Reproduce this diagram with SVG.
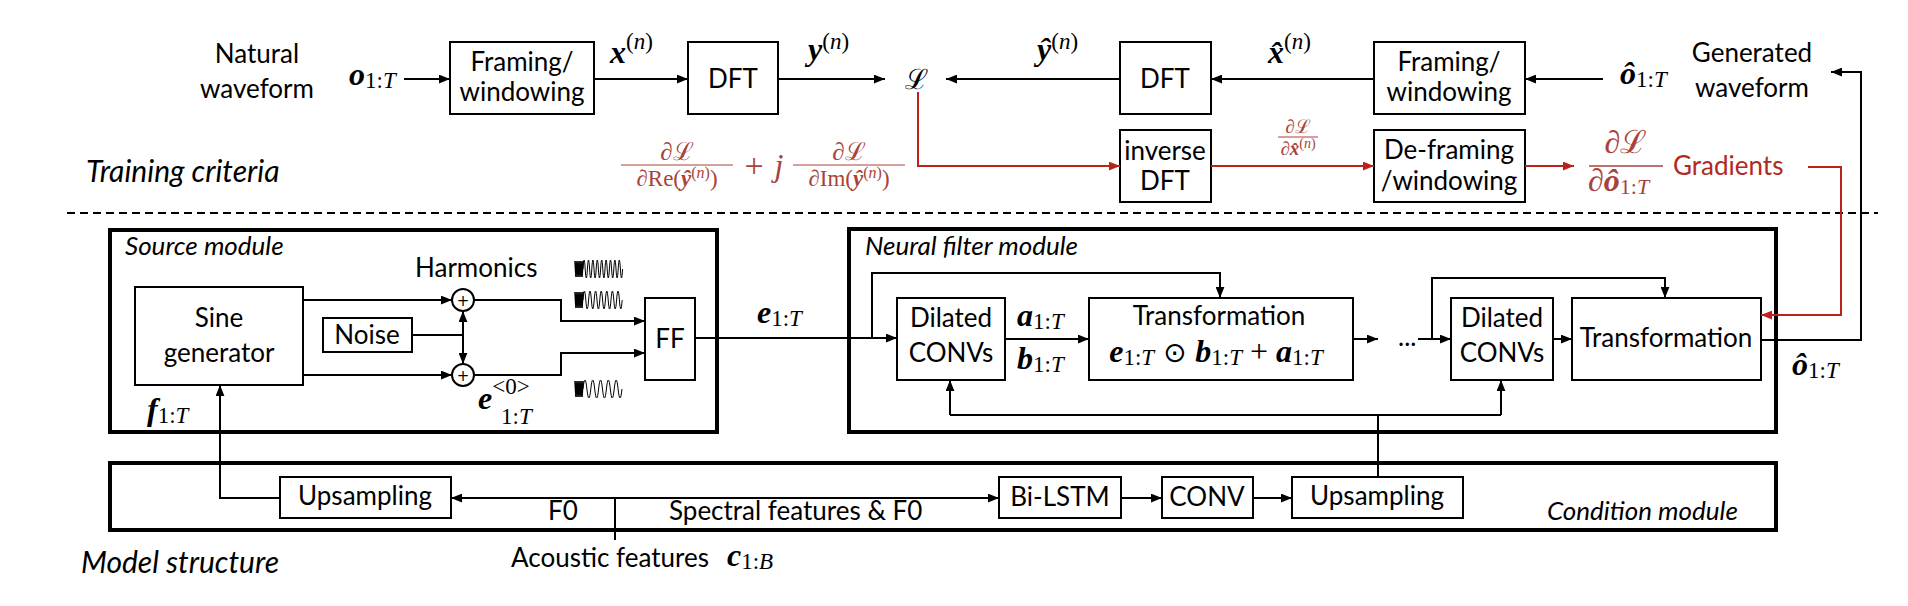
<svg xmlns="http://www.w3.org/2000/svg" width="1908" height="606" viewBox="0 0 1908 606">
<defs>
<style>
.t{font-family:Lato,"Liberation Sans",sans-serif;font-size:26px;fill:#000}
.ti{font-family:Lato,"Liberation Sans",sans-serif;font-style:italic;font-size:26px;fill:#000}
.red{fill:#b02a22}
.m{font-family:"Liberation Serif","DejaVu Serif",serif;font-size:32px;fill:#000}
.mr{font-family:"Liberation Serif","DejaVu Serif",serif;font-size:22px;fill:#a8433b}
.cal{font-family:"DejaVu Serif",serif;font-style:normal}
.bi{font-weight:bold;font-style:italic}
.it{font-style:italic}
.sub{font-size:23px;font-weight:normal;font-style:normal}
.box{fill:#fff;stroke:#000;stroke-width:2}
.mod{fill:none;stroke:#000;stroke-width:4}
.ln{fill:none;stroke:#000;stroke-width:2}
.rl{fill:none;stroke:#b8231c;stroke-width:2}
.wv{fill:none;stroke:#000;stroke-width:1}
</style>
<marker id="a" viewBox="0 0 10 8" refX="10" refY="4" markerWidth="11" markerHeight="9" markerUnits="userSpaceOnUse" orient="auto-start-reverse"><path d="M0,0 L10,4 L0,8 z" fill="#000"/></marker>
<marker id="ar" viewBox="0 0 10 8" refX="10" refY="4" markerWidth="11" markerHeight="9" markerUnits="userSpaceOnUse" orient="auto"><path d="M0,0 L10,4 L0,8 z" fill="#b8231c"/></marker>
</defs>
<rect width="1908" height="606" fill="#fff"/>

<!-- section labels -->
<text class="ti" x="86" y="182" style="font-size:30px">Training criteria</text>
<text class="ti" x="81" y="573" style="font-size:30px">Model structure</text>
<line x1="67" y1="213" x2="1878" y2="213" stroke="#000" stroke-width="2" stroke-dasharray="8 5"/>

<!-- top row -->
<g id="natural">
<text class="t" x="257" y="63" text-anchor="middle">Natural</text>
<text class="t" x="257" y="98" text-anchor="middle">waveform</text>
<text class="m" x="349" y="85"><tspan class="bi">o</tspan><tspan class="sub" dy="3">1:<tspan class="it">T</tspan></tspan></text>
</g>
<g id="framing1">
<rect class="box" x="450" y="42" width="144" height="72"/>
<text class="t" x="522" y="71" text-anchor="middle">Framing/</text>
<text class="t" x="522" y="101" text-anchor="middle">windowing</text>
</g>
<g id="dft1">
<rect class="box" x="688" y="42" width="90" height="72"/>
<text class="t" x="733" y="88" text-anchor="middle">DFT</text>
</g>
<g id="loss">
<text class="cal" x="916" y="89" text-anchor="middle" style="font-size:28px">ℒ</text>
</g>
<g id="dft2">
<rect class="box" x="1120" y="42" width="91" height="72"/>
<text class="t" x="1165" y="88" text-anchor="middle">DFT</text>
</g>
<g id="framing2">
<rect class="box" x="1374" y="42" width="151" height="72"/>
<text class="t" x="1449" y="71" text-anchor="middle">Framing/</text>
<text class="t" x="1449" y="101" text-anchor="middle">windowing</text>
</g>
<g id="generated">
<text class="m" x="1620" y="84"><tspan class="bi">ô</tspan><tspan class="sub" dy="3">1:<tspan class="it">T</tspan></tspan></text>
<text class="t" x="1752" y="62" text-anchor="middle">Generated</text>
<text class="t" x="1752" y="97" text-anchor="middle">waveform</text>
</g>
<g id="idft">
<rect class="box" x="1120" y="130" width="91" height="72"/>
<text class="t" x="1165" y="160" text-anchor="middle">inverse</text>
<text class="t" x="1165" y="190" text-anchor="middle">DFT</text>
</g>
<g id="deframing">
<rect class="box" x="1374" y="130" width="151" height="72"/>
<text class="t" x="1449" y="159" text-anchor="middle">De-framing</text>
<text class="t" x="1449" y="190" text-anchor="middle">/windowing</text>
</g>
<g id="gradients">
<text class="mr" x="1626" y="153" text-anchor="middle" style="font-size:32px">∂<tspan class="cal">ℒ</tspan></text>
<line x1="1589" y1="166" x2="1663" y2="166" stroke="#a8433b" stroke-width="1.5"/>
<text class="mr" x="1588" y="191" style="font-size:32px">∂<tspan class="bi">ô</tspan><tspan style="font-size:22px" dy="3">1:<tspan class="it">T</tspan></tspan></text>
<text class="t red" x="1673" y="175">Gradients</text>
</g>
<g id="labels-top">
<text class="m" x="610" y="63"><tspan class="bi">x</tspan><tspan class="sub" dy="-14">(<tspan class="it">n</tspan>)</tspan></text>
<text class="m" x="808" y="60"><tspan class="bi">y</tspan><tspan class="sub" dy="-11">(<tspan class="it">n</tspan>)</tspan></text>
<text class="m" x="1037" y="60"><tspan class="bi">ŷ</tspan><tspan class="sub" dy="-11">(<tspan class="it">n</tspan>)</tspan></text>
<text class="m" x="1268" y="63"><tspan class="bi">x̂</tspan><tspan class="sub" dy="-14">(<tspan class="it">n</tspan>)</tspan></text>
<text class="mr" x="1298" y="133" text-anchor="middle" style="font-size:19px">∂<tspan class="cal">ℒ</tspan></text>
<line x1="1278" y1="137" x2="1318" y2="137" stroke="#a8433b" stroke-width="1"/>
<text class="mr" x="1298" y="155" text-anchor="middle" style="font-size:19px">∂<tspan class="bi">x̂</tspan><tspan style="font-size:14px" dy="-7">(<tspan class="it">n</tspan>)</tspan></text>
<text class="mr" x="677" y="160" text-anchor="middle" style="font-size:25px">∂<tspan class="cal">ℒ</tspan></text>
<line x1="621" y1="165" x2="733" y2="165" stroke="#a8433b" stroke-width="1.2"/>
<text class="mr" x="677" y="186" text-anchor="middle" style="font-size:23px">∂Re(<tspan class="bi">ŷ</tspan><tspan style="font-size:16px" dy="-8">(<tspan class="it">n</tspan>)</tspan><tspan dy="8">)</tspan></text>
<text class="mr" x="754" y="177" text-anchor="middle" style="font-size:34px">+</text>
<text class="mr" x="779" y="176" text-anchor="middle" style="font-size:32px;font-style:italic">j</text>
<text class="mr" x="849" y="160" text-anchor="middle" style="font-size:25px">∂<tspan class="cal">ℒ</tspan></text>
<line x1="793" y1="165" x2="905" y2="165" stroke="#a8433b" stroke-width="1.2"/>
<text class="mr" x="849" y="186" text-anchor="middle" style="font-size:23px">∂Im(<tspan class="bi">ŷ</tspan><tspan style="font-size:16px" dy="-8">(<tspan class="it">n</tspan>)</tspan><tspan dy="8">)</tspan></text>
</g>

<!-- source module -->
<g id="source-module">
<rect class="mod" x="110" y="230" width="607" height="202"/>
<text class="ti" x="125" y="255">Source module</text>
<text class="t" x="415" y="277">Harmonics</text>
</g>
<g id="sine">
<rect class="box" x="135" y="287" width="168" height="98"/>
<text class="t" x="219" y="327" text-anchor="middle">Sine</text>
<text class="t" x="219" y="362" text-anchor="middle">generator</text>
</g>
<g id="noise">
<rect class="box" x="323" y="318" width="89" height="34"/>
<text class="t" x="367" y="344" text-anchor="middle">Noise</text>
</g>
<g id="add1">
<circle cx="463" cy="300" r="11" fill="#fff" stroke="#000" stroke-width="2"/>
<text x="463" y="306" text-anchor="middle" style="font-family:'DejaVu Sans',sans-serif;font-size:15px">+</text>
</g>
<g id="add2">
<circle cx="463" cy="375" r="11" fill="#fff" stroke="#000" stroke-width="2"/>
<text x="463" y="381" text-anchor="middle" style="font-family:'DejaVu Sans',sans-serif;font-size:15px">+</text>
</g>
<g id="ff">
<rect class="box" x="645" y="298" width="50" height="82"/>
<text class="t" x="670" y="348" text-anchor="middle">FF</text>
</g>
<g id="waves">
<path class="wv" style="stroke-width:1.6" d="M575,261 L576,277 L577,261 L578,277 L579,261 L580,277 L581,261 L582,277 L583,261"/>
<path class="wv" d="M583,269 q1.1,-18 2.2,0 t2.2,0 t2.2,0 t2.2,0 t2.2,0 t2.2,0 t2.2,0 t2.2,0 t2.2,0 t2.2,0 t2.2,0 t2.2,0 t2.2,0 t2.2,0 t2.2,0 t2.2,0 t2.2,0 t2.2,0"/>
<path class="wv" style="stroke-width:1.6" d="M575,292 L576,308 L577,292 L578,308 L579,292 L580,308 L581,292 L582,308 L583,292"/>
<path class="wv" d="M583,300 q1.4,-18 2.8,0 t2.8,0 t2.8,0 t2.8,0 t2.8,0 t2.8,0 t2.8,0 t2.8,0 t2.8,0 t2.8,0 t2.8,0 t2.8,0 t2.8,0 t2.8,0"/>
<path class="wv" style="stroke-width:1.6" d="M575,381 L576,397 L577,381 L578,397 L579,381 L580,397 L581,381 L582,397 L583,381"/>
<path class="wv" d="M583,389 q1.95,-18 3.9,0 t3.9,0 t3.9,0 t3.9,0 t3.9,0 t3.9,0 t3.9,0 t3.9,0 t3.9,0 t3.9,0"/>
</g>
<g id="source-labels">
<text class="m" x="147" y="420"><tspan class="bi">f</tspan><tspan class="sub" dy="3">1:<tspan class="it">T</tspan></tspan></text>
<text class="m" x="478" y="409"><tspan class="bi">e</tspan><tspan class="sub" dy="-15">&lt;0&gt;</tspan></text>
<text class="m" x="501" y="424"><tspan class="sub">1:<tspan class="it">T</tspan></tspan></text>
<text class="m" x="757" y="323"><tspan class="bi">e</tspan><tspan class="sub" dy="3">1:<tspan class="it">T</tspan></tspan></text>
</g>

<!-- neural filter module -->
<g id="filter-module">
<rect class="mod" x="849" y="229" width="927" height="203"/>
<text class="ti" x="865" y="255">Neural filter module</text>
</g>
<g id="dconv1">
<rect class="box" x="897" y="298" width="108" height="82"/>
<text class="t" x="951" y="327" text-anchor="middle">Dilated</text>
<text class="t" x="951" y="362" text-anchor="middle">CONVs</text>
</g>
<g id="trans1">
<rect class="box" x="1089" y="298" width="264" height="82"/>
<text class="t" x="1219" y="325" text-anchor="middle">Transformation</text>
<text class="m" x="1216" y="362" text-anchor="middle"><tspan class="bi">e</tspan><tspan class="sub" dy="3">1:<tspan class="it">T</tspan></tspan><tspan dy="-3" style="font-family:'DejaVu Sans',sans-serif;font-size:28px"> ⊙ </tspan><tspan class="bi">b</tspan><tspan class="sub" dy="3">1:<tspan class="it">T</tspan></tspan><tspan dy="-3"> + </tspan><tspan class="bi">a</tspan><tspan class="sub" dy="3">1:<tspan class="it">T</tspan></tspan></text>
</g>
<g id="ellipsis">
<text class="t" x="1398" y="346">...</text>
</g>
<g id="dconv2">
<rect class="box" x="1451" y="298" width="102" height="82"/>
<text class="t" x="1502" y="327" text-anchor="middle">Dilated</text>
<text class="t" x="1502" y="362" text-anchor="middle">CONVs</text>
</g>
<g id="trans2">
<rect class="box" x="1572" y="298" width="189" height="82"/>
<text class="t" x="1666" y="347" text-anchor="middle">Transformation</text>
</g>
<g id="filter-labels">
<text class="m" x="1017" y="326"><tspan class="bi">a</tspan><tspan class="sub" dy="3">1:<tspan class="it">T</tspan></tspan></text>
<text class="m" x="1017" y="369"><tspan class="bi">b</tspan><tspan class="sub" dy="3">1:<tspan class="it">T</tspan></tspan></text>
<text class="m" x="1792" y="375"><tspan class="bi">ô</tspan><tspan class="sub" dy="3">1:<tspan class="it">T</tspan></tspan></text>
</g>

<!-- condition module -->
<g id="condition-module">
<rect class="mod" x="110" y="463" width="1666" height="67"/>
<text class="ti" x="1547" y="520">Condition module</text>
<text class="t" x="548" y="520">F0</text>
<text class="t" x="669" y="520">Spectral features &amp; F0</text>
</g>
<g id="up1">
<rect class="box" x="280" y="477" width="171" height="41"/>
<text class="t" x="365" y="505" text-anchor="middle">Upsampling</text>
</g>
<g id="bilstm">
<rect class="box" x="999" y="477" width="122" height="41"/>
<text class="t" x="1060" y="506" text-anchor="middle">Bi-LSTM</text>
</g>
<g id="conv">
<rect class="box" x="1162" y="477" width="91" height="41"/>
<text class="t" x="1207" y="506" text-anchor="middle">CONV</text>
</g>
<g id="up2">
<rect class="box" x="1292" y="477" width="171" height="41"/>
<text class="t" x="1377" y="505" text-anchor="middle">Upsampling</text>
</g>
<g id="acoustic">
<text class="t" x="511" y="567">Acoustic features</text>
<text class="m" x="727" y="566"><tspan class="bi">c</tspan><tspan class="sub" dy="3">1:<tspan class="it">B</tspan></tspan></text>
</g>

<!-- connectors -->
<g id="connectors">
<line class="ln" x1="404" y1="79" x2="450" y2="79" marker-end="url(#a)"/>
<line class="ln" x1="594" y1="79" x2="688" y2="79" marker-end="url(#a)"/>
<line class="ln" x1="778" y1="79" x2="885" y2="79" marker-end="url(#a)"/>
<line class="ln" x1="1120" y1="79" x2="946" y2="79" marker-end="url(#a)"/>
<line class="ln" x1="1374" y1="79" x2="1211" y2="79" marker-end="url(#a)"/>
<line class="ln" x1="1603" y1="79" x2="1525" y2="79" marker-end="url(#a)"/>
<polyline class="ln" points="1761,340 1861,340 1861,72 1831,72" marker-end="url(#a)"/>
<polyline class="rl" points="918,92 918,166 1120,166" marker-end="url(#ar)"/>
<line class="rl" x1="1211" y1="166" x2="1374" y2="166" marker-end="url(#ar)"/>
<line class="rl" x1="1525" y1="166" x2="1574" y2="166" marker-end="url(#ar)"/>
<polyline class="rl" points="1808,167 1841,167 1841,315 1761,315" marker-end="url(#ar)"/>
<line class="ln" x1="303" y1="300" x2="452" y2="300" marker-end="url(#a)"/>
<line class="ln" x1="303" y1="375" x2="452" y2="375" marker-end="url(#a)"/>
<line class="ln" x1="412" y1="335" x2="463" y2="335"/>
<line class="ln" x1="463" y1="335" x2="463" y2="311" marker-end="url(#a)"/>
<line class="ln" x1="463" y1="335" x2="463" y2="364" marker-end="url(#a)"/>
<polyline class="ln" points="474,300 561,300 561,321 645,321" marker-end="url(#a)"/>
<polyline class="ln" points="474,375 561,375 561,353 645,353" marker-end="url(#a)"/>
<line class="ln" x1="695" y1="338" x2="897" y2="338" marker-end="url(#a)"/>
<polyline class="ln" points="872,338 872,273 1220,273 1220,298" marker-end="url(#a)"/>
<line class="ln" x1="1005" y1="339" x2="1089" y2="339" marker-end="url(#a)"/>
<line class="ln" x1="1353" y1="339" x2="1378" y2="339" marker-end="url(#a)"/>
<line class="ln" x1="1418" y1="339" x2="1451" y2="339" marker-end="url(#a)"/>
<polyline class="ln" points="1432,339 1432,278 1665,278 1665,298" marker-end="url(#a)"/>
<line class="ln" x1="1553" y1="339" x2="1572" y2="339" marker-end="url(#a)"/>
<line class="ln" x1="1378" y1="477" x2="1378" y2="415"/>
<polyline class="ln" points="950,415 1501,415"/>
<line class="ln" x1="950" y1="415" x2="950" y2="380" marker-end="url(#a)"/>
<line class="ln" x1="1501" y1="415" x2="1501" y2="380" marker-end="url(#a)"/>
<polyline class="ln" points="280,498 220,498 220,385" marker-end="url(#a)"/>
<line class="ln" x1="451" y1="498" x2="999" y2="498" marker-start="url(#a)" marker-end="url(#a)"/>
<line class="ln" x1="615" y1="498" x2="615" y2="540"/>
<line class="ln" x1="1121" y1="498" x2="1162" y2="498" marker-end="url(#a)"/>
<line class="ln" x1="1253" y1="498" x2="1292" y2="498" marker-end="url(#a)"/>
</g>
</svg>
